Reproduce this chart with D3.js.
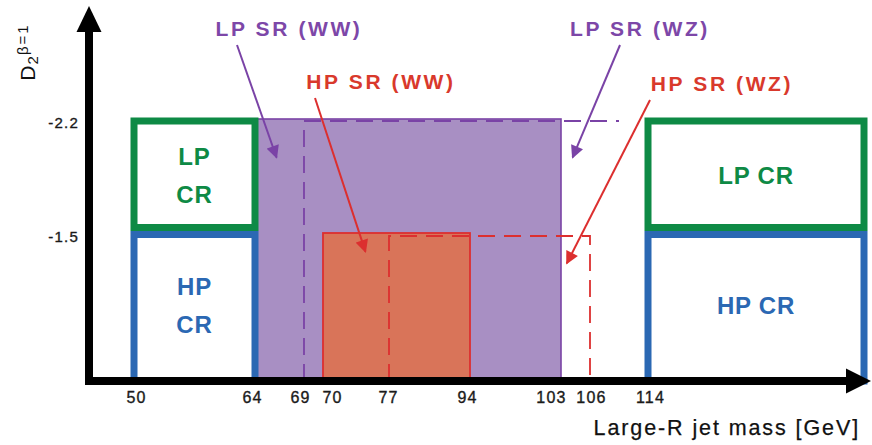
<!DOCTYPE html>
<html>
<head>
<meta charset="utf-8">
<script src="https://cdn.jsdelivr.net/npm/d3@7"></script>
<style>
  html, body { margin: 0; padding: 0; background: #fff; }
  svg { display: block; }
  text { font-family: "Liberation Sans", Arial, Helvetica, sans-serif; }
</style>
</head>
<body>
<div id="chart"></div>
<script>
// ---- Data ---------------------------------------------------------------
// Large-R jet mass boundaries (GeV) shown on the axis
const massTicks = [50, 64, 69, 70, 77, 94, 103, 106, 114];
// upper end of the drawn mass axis (not labelled)
const massAxisEnd = 140;
// D2 cut values shown on the axis, and the axis origin
const d2Ticks = [-2.2, -1.5];
const d2Floor = 0;

// Signal regions: [mass low, mass high], D2 cut
const srNames = ["LP SR (WW)", "HP SR (WW)", "LP SR (WZ)", "HP SR (WZ)"];
const srMass  = [[64, 103], [70, 94], [69, 110], [77, 106]];
const srCut   = [-2.2, -1.5, -2.2, -1.5];

// Control regions (mass side-bands)
const crMassLow  = [50, 64];
const crMassHigh = [114, massAxisEnd];
const crNames = ["LP CR", "HP CR"];

// Arrow targets inside the regions, in data units [mass, D2]
const arrowTarget = [[66.2, -1.97], [74.5, -1.32], [104.2, -1.97], [103.6, -1.2]];

// ---- Layout -------------------------------------------------------------
const W = 872, H = 445;
const originX = 89, originY = 381;

const svg = d3.select("#chart").append("svg")
  .attr("width", W).attr("height", H);

// schematic (non-uniform) mass axis: piecewise linear through the boundaries
const x = d3.scaleLinear()
  .domain([...massTicks, massAxisEnd])
  .range([134, 255, 304, 323, 389, 470, 561, 590, 648, 864]);

const y = d3.scaleLinear()
  .domain([d2Floor, d2Ticks[1], d2Ticks[0]])
  .range([originY, 234, 120]);

// horizontal nudges that keep crowded tick labels apart
const tickNudge = [2, -3, -4, 9, -1, -3, -10, 1, 2];

const C = {
  purpleFill: "#a88fc3", purple: "#7a43a6", purpleText: "#7d47a8",
  orangeFill: "#d97459", red: "#dc2f2f", redText: "#d9392c",
  green: "#0e8a45", blue: "#2b68b3"
};

// ---- Signal regions -----------------------------------------------------
const ww = { lp: 0, hp: 1 }, wz = { lp: 2, hp: 3 };

// LP SR (WW): filled purple
svg.append("rect")
  .attr("x", x(srMass[ww.lp][0])).attr("y", y(srCut[ww.lp]) - 1)
  .attr("width", x(srMass[ww.lp][1]) - x(srMass[ww.lp][0]))
  .attr("height", originY - y(srCut[ww.lp]) + 1)
  .attr("fill", C.purpleFill).attr("stroke", C.purple).attr("stroke-width", 1.6);

// LP SR (WZ): dashed purple outline (left and top edges)
svg.append("path")
  .attr("d", d3.line()([
    [x(srMass[wz.lp][0]), originY],
    [x(srMass[wz.lp][0]), y(srCut[wz.lp]) + 1],
    [x(srMass[wz.lp][1]), y(srCut[wz.lp]) + 1]
  ]))
  .attr("fill", "none").attr("stroke", C.purple)
  .attr("stroke-width", 1.8).attr("stroke-dasharray", "17,9");

// HP SR (WW): filled orange
svg.append("rect")
  .attr("x", x(srMass[ww.hp][0])).attr("y", y(srCut[ww.hp]) - 1)
  .attr("width", x(srMass[ww.hp][1]) - x(srMass[ww.hp][0]))
  .attr("height", originY - y(srCut[ww.hp]) + 1)
  .attr("fill", C.orangeFill).attr("stroke", C.red).attr("stroke-width", 1.8);

// HP SR (WZ): dashed red outline
svg.append("path")
  .attr("d", d3.line()([
    [x(srMass[wz.hp][0]), originY],
    [x(srMass[wz.hp][0]), y(srCut[wz.hp]) + 2],
    [x(srMass[wz.hp][1]), y(srCut[wz.hp]) + 2],
    [x(srMass[wz.hp][1]), originY]
  ]))
  .attr("fill", "none").attr("stroke", C.red)
  .attr("stroke-width", 1.8).attr("stroke-dasharray", "17,9");

// ---- Control regions ----------------------------------------------------
const sw = 7;
const split = y(d2Ticks[1]) - 3;
[crMassLow, crMassHigh].forEach((m, i) => {
  const x0 = x(m[0]), x1 = x(m[1]);
  // LP CR (green) above the tighter cut
  svg.append("rect")
    .attr("x", x0).attr("y", y(d2Ticks[0]) + 1)
    .attr("width", x1 - x0).attr("height", split - sw / 2 - y(d2Ticks[0]) - 1)
    .attr("fill", "none").attr("stroke", C.green).attr("stroke-width", sw);
  // HP CR (blue) below it
  svg.append("rect")
    .attr("x", x0).attr("y", split + sw / 2)
    .attr("width", x1 - x0).attr("height", originY - split - sw / 2)
    .attr("fill", "none").attr("stroke", C.blue).attr("stroke-width", sw);

  const cx = (x0 + x1) / 2;
  const lpMid = (y(d2Ticks[0]) + split) / 2, hpMid = (split + originY) / 2;
  const twoLine = i === 0;
  [[crNames[0], lpMid, C.green], [crNames[1], hpMid, C.blue]].forEach(([t, cy, col]) => {
    const lines = twoLine ? t.split(" ") : [t];
    const g = svg.append("text")
      .attr("text-anchor", "middle").attr("fill", col)
      .attr("font-size", 24).attr("font-weight", "bold")
      .attr("letter-spacing", 0.8);
    lines.forEach((ln, k) => {
      g.append("tspan")
        .attr("x", cx)
        .attr("y", cy + 8 + (k - (lines.length - 1) / 2) * 38)
        .text(ln);
    });
  });
});

// ---- Axes ---------------------------------------------------------------
const axisW = 8;
svg.append("line")
  .attr("x1", originX - axisW / 2).attr("x2", 848)
  .attr("y1", originY).attr("y2", originY)
  .attr("stroke", "#000").attr("stroke-width", axisW);
svg.append("path")
  .attr("d", `M846,${originY - 12.5}L871,${originY}L846,${originY + 12.5}Z`)
  .attr("fill", "#000");
svg.append("line")
  .attr("x1", originX).attr("x2", originX)
  .attr("y1", originY + axisW / 2).attr("y2", 30)
  .attr("stroke", "#000").attr("stroke-width", axisW);
svg.append("path")
  .attr("d", `M${originX - 12.5},32L${originX},6L${originX + 12.5},32Z`)
  .attr("fill", "#000");

// tick labels via d3 axes (no tick lines, no domain path)
const xAxis = svg.append("g")
  .attr("transform", `translate(0,${originY + 4})`)
  .call(d3.axisBottom(x).tickValues(massTicks).tickSize(0).tickPadding(7)
        .tickFormat(d3.format("d")));
xAxis.select(".domain").remove();
xAxis.selectAll(".tick text")
  .attr("dx", (d, i) => tickNudge[i])
  .attr("font-size", 16).attr("letter-spacing", 1.2).attr("fill", "#1a1a1a")
  .attr("stroke", "#1a1a1a").attr("stroke-width", 0.35)
  .style("font-family", "'Liberation Sans', Arial, sans-serif");

const yAxis = svg.append("g")
  .attr("transform", `translate(${originX - axisW / 2},0)`)
  .call(d3.axisLeft(y).tickValues(d2Ticks).tickSize(0).tickPadding(6)
        .tickFormat(d => d.toFixed(1)));
yAxis.select(".domain").remove();
yAxis.selectAll("text")
  .attr("font-size", 15).attr("letter-spacing", 1.2).attr("fill", "#1a1a1a")
  .attr("stroke", "#1a1a1a").attr("stroke-width", 0.35)
  .attr("dy", "0.82em").attr("transform", "translate(0,-5)")
  .style("font-family", "'Liberation Sans', Arial, sans-serif");

// axis titles
svg.append("text")
  .attr("x", 860).attr("y", 435).attr("text-anchor", "end")
  .attr("font-size", 21.5).attr("letter-spacing", 1.9).attr("fill", "#111")
  .attr("stroke", "#111").attr("stroke-width", 0.25)
  .text("Large-R jet mass [GeV]");

const yTitle = svg.append("text")
  .attr("transform", "translate(35,52) rotate(-90)")
  .attr("text-anchor", "middle").attr("fill", "#111");
yTitle.append("tspan").attr("font-size", 21).text("D");
yTitle.append("tspan").attr("font-size", 15).attr("dy", 3).attr("dx", 1).text("2");
yTitle.append("tspan").attr("font-size", 15).attr("dy", -10).attr("dx", 1)
  .attr("letter-spacing", 2).text("β=1");

// ---- Region labels with arrows ------------------------------------------
const labelPos = [[289, 36], [381, 89], [640, 36], [722, 91]];
const labelColor = [C.purpleText, C.redText, C.purpleText, C.redText];
const arrowColor = [C.purple, C.red, C.purple, C.red];
const arrowStartDx = [-52, -66, -20, -72];

const defs = svg.append("defs");
arrowColor.forEach((c, i) => {
  defs.append("marker")
    .attr("id", "ah" + i)
    .attr("viewBox", "0 0 10 10").attr("refX", 9).attr("refY", 5)
    .attr("markerUnits", "userSpaceOnUse")
    .attr("markerWidth", 15).attr("markerHeight", 13)
    .attr("orient", "auto")
    .append("path").attr("d", "M0,0L10,5L0,10Z").attr("fill", c);
});

srNames.forEach((name, i) => {
  const [lx, ly] = labelPos[i];
  svg.append("text")
    .attr("x", lx).attr("y", ly).attr("text-anchor", "middle")
    .attr("font-size", 21).attr("font-weight", "bold")
    .attr("letter-spacing", 2.6).attr("fill", labelColor[i])
    .text(name);
  const [tm, td] = arrowTarget[i];
  svg.append("line")
    .attr("x1", lx + arrowStartDx[i]).attr("y1", ly + 9)
    .attr("x2", x(tm)).attr("y2", y(td))
    .attr("stroke", arrowColor[i]).attr("stroke-width", 2)
    .attr("marker-end", `url(#ah${i})`);
});
</script>
</body>
</html>
